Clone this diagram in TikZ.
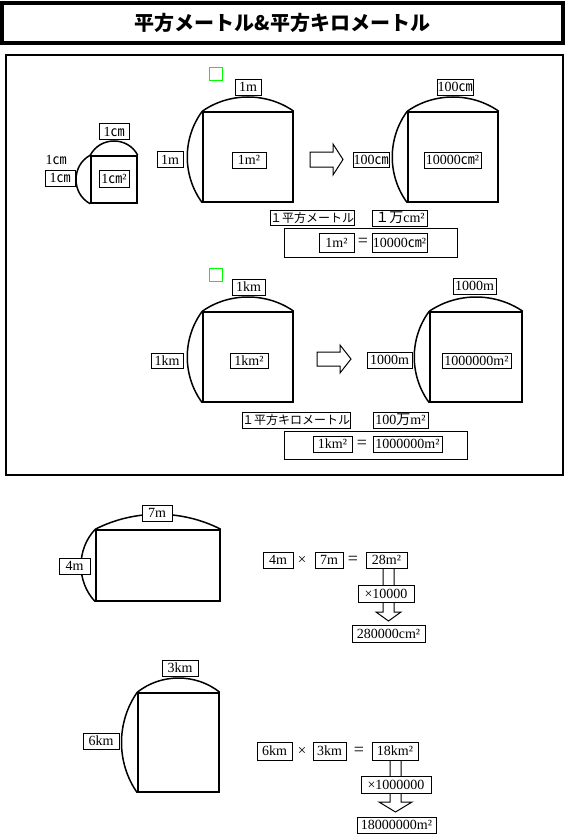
\documentclass[tikz,border=0pt]{standalone}
\usepackage{fontspec}
\setmainfont{Liberation Serif}
\newfontfamily\jp{Noto Sans CJK JP}
\usetikzlibrary{positioning}

\tikzset{
	lab/.style={draw, fill=white, inner sep=0pt, minimum height=16, font=\fontsize{14}{14}\selectfont},
	jlab/.style={lab, font=\fontsize{12}{12}\selectfont\jp},
	sign/.style={font=\fontsize{18}{18}\selectfont},
	sq/.style={draw, line width=1.5, inner sep=0pt},
	bulge/.style={line width=1.5},
	blk/.style={draw, line width=1, fill=white},
	greenbox/.style={draw=green, line width=1, minimum size=13, inner sep=0pt}
}

\begin{document}
\begin{tikzpicture}[x=1pt, y=-1pt]
		\useasboundingbox (0,0) rectangle (566,840);

		\node[draw, line width=3.5, minimum width=561, minimum height=40, font=\fontsize{20}{20}\selectfont\jp\bfseries] (title) at (282.5,23) {平方メートル\&平方キロメートル};
		\node[draw, line width=2.5, minimum width=557, minimum height=420] (frame) at (284.5,265) {};

		% cm2 and m2
		\node[sq, minimum width=46, minimum height=47] (sqA) at (114,179.5) {};
		\node[sq, minimum width=90, minimum height=90] (sqB) at (248,157) {};
		\node[sq, minimum width=90, minimum height=90] (sqC) at (453,157) {};
		\draw[bulge] (sqA.north west) .. controls +(10,-19) and +(-10,-19) .. (sqA.north east);
		\draw[bulge] (sqA.north west) .. controls +(-19,10) and +(-19,-10) .. (sqA.south west);
		\draw[bulge] (sqB.north west) .. controls +(27,-19) and +(-27,-19) .. (sqB.north east);
		\draw[bulge] (sqB.north west) .. controls +(-20,27) and +(-20,-27) .. (sqB.south west);
		\draw[bulge] (sqC.north west) .. controls +(27,-19) and +(-27,-19) .. (sqC.north east);
		\draw[bulge] (sqC.north west) .. controls +(-20,27) and +(-20,-27) .. (sqC.south west);

		\node[greenbox] (markA) at (215.5,74.5) {};
		\node[lab, minimum width=30] (topA) at (114,131.5) {1{\jp ㎝}};
		\node[font=\fontsize{14}{14}\selectfont] (freeA) at (56,160) {1{\jp ㎝}};
		\node[lab, minimum width=30] (leftA) at (60,178) {1{\jp ㎝}};
		\node[lab, minimum width=30, minimum height=17] (inA) at (114,178.5) {1{\jp ㎝}²};
		\node[lab, minimum width=26] (topB) at (248,87) {1m};
		\node[lab, minimum width=26] (leftB) at (170,159.5) {1m};
		\node[lab, minimum width=34] (inB) at (249,160) {1m²};
		\node[lab, minimum width=36] (topC) at (455,87) {100{\jp ㎝}};
		\node[lab, minimum width=36, minimum height=15] (leftC) at (371,160) {100{\jp ㎝}};
		\node[lab, minimum width=57] (inC) at (452.5,160) {10000{\jp ㎝}²};
		\draw[blk] (310,152) -- (333,152) -- (333,144) -- (343,159.5) -- (333,175) -- (333,167) -- (310,167) -- cycle;

		\node[jlab, minimum width=82, minimum height=15] (nameA) at (312,217.5) {１平方メートル};
		\node[lab, minimum width=55] (valA) at (400,218) {{\jp １万}cm²};
		\node[draw, line width=1, minimum width=173, minimum height=29] (eqA) at (370.5,242.5) {};
		\node[lab, minimum width=35, minimum height=19] (eqA1) at (336.5,242.5) {1m²};
		\node[sign] (eqAis) at (363,242.5) {=};
		\node[lab, minimum width=55, minimum height=19] (eqA2) at (399.5,242.5) {10000{\jp ㎝}²};

		% km2 and m2
		\node[sq, minimum width=90, minimum height=90] (sqD) at (248,357) {};
		\node[sq, minimum width=92, minimum height=90] (sqE) at (476,357) {};
		\draw[bulge] (sqD.north west) .. controls +(27,-19) and +(-27,-19) .. (sqD.north east);
		\draw[bulge] (sqD.north west) .. controls +(-20,27) and +(-20,-27) .. (sqD.south west);
		\draw[bulge] (sqE.north west) .. controls +(28,-19) and +(-28,-19) .. (sqE.north east);
		\draw[bulge] (sqE.north west) .. controls +(-20,27) and +(-20,-27) .. (sqE.south west);

		\node[greenbox] (markD) at (215.5,274.5) {};
		\node[lab, minimum width=33] (topD) at (248.5,287) {1km};
		\node[lab, minimum width=32, minimum height=15] (leftD) at (167,360.5) {1km};
		\node[lab, minimum width=38, minimum height=15] (inD) at (249,360.5) {1km²};
		\node[lab, minimum width=43] (topE) at (474.5,286) {1000m};
		\node[lab, minimum width=45] (leftE) at (389.5,360) {1000m};
		\node[lab, minimum width=69, minimum height=15] (inE) at (476.5,360.5) {1000000m²};
		\draw[blk] (317,352) -- (340,352) -- (340,345) -- (351,359) -- (340,373) -- (340,366) -- (317,366) -- cycle;

		\node[jlab, minimum width=106] (nameD) at (296,420) {１平方キロメートル};
		\node[lab, minimum width=55] (valD) at (400.5,420) {100{\jp 万}m²};
		\node[draw, line width=1, minimum width=183, minimum height=28] (eqD) at (375.5,445) {};
		\node[lab, minimum width=39] (eqD1) at (332.5,444) {1km²};
		\node[sign] (eqDis) at (362,444) {=};
		\node[lab, minimum width=69] (eqD2) at (407.5,444) {1000000m²};

		% 4m x 7m
		\node[sq, minimum width=124, minimum height=71] (rectF) at (158,565.5) {};
		\draw[bulge] (rectF.north west) .. controls +(39,-20) and +(-39,-20) .. (rectF.north east);
		\draw[bulge] (rectF.north west) .. controls +(-19,20) and +(-19,-20) .. (rectF.south west);
		\node[lab, minimum width=30] (topF) at (157,513) {7m};
		\node[lab, minimum width=31] (leftF) at (74.5,566) {4m};

		\draw[blk] (383,568) -- (394,568) -- (394,612) -- (401,612) -- (388.5,621) -- (376,612) -- (383,612) -- cycle;
		\node[lab, minimum width=30] (calcF1) at (278,560) {4m};
		\node[font=\fontsize{15}{15}\selectfont] (timesF) at (302,560) {×};
		\node[lab, minimum width=28] (calcF2) at (329,560) {7m};
		\node[sign] (isF) at (353,560) {=};
		\node[lab, minimum width=41] (calcF3) at (386.5,560) {28m²};
		\node[lab, minimum width=56, minimum height=17] (mulF) at (386,593.5) {×10000};
		\node[lab, minimum width=73, minimum height=17] (resF) at (388.5,633.5) {280000cm²};

		% 6km x 3km
		\node[sq, minimum width=81, minimum height=99] (rectG) at (178.5,742.5) {};
		\draw[bulge] (rectG.north west) .. controls +(24,-19) and +(-24,-19) .. (rectG.north east);
		\draw[bulge] (rectG.north west) .. controls +(-21,30) and +(-21,-30) .. (rectG.south west);
		\node[lab, minimum width=36] (topG) at (180,668) {3km};
		\node[lab, minimum width=36] (leftG) at (101,741) {6km};

		\draw[blk] (390,760) -- (401,760) -- (401,802) -- (412,802) -- (395.5,812) -- (379,802) -- (390,802) -- cycle;
		\node[lab, minimum width=35, minimum height=18] (calcG1) at (274.5,751) {6km};
		\node[font=\fontsize{15}{15}\selectfont] (timesG) at (302,751) {×};
		\node[lab, minimum width=33, minimum height=18] (calcG2) at (329.5,751) {3km};
		\node[sign] (isG) at (359,751) {=};
		\node[lab, minimum width=46, minimum height=18] (calcG3) at (395,751) {18km²};
		\node[lab, minimum width=70, minimum height=17] (mulG) at (396,784.5) {×1000000};
		\node[lab, minimum width=79] (resG) at (396.5,825) {18000000m²};
	\end{tikzpicture}
\end{document}
